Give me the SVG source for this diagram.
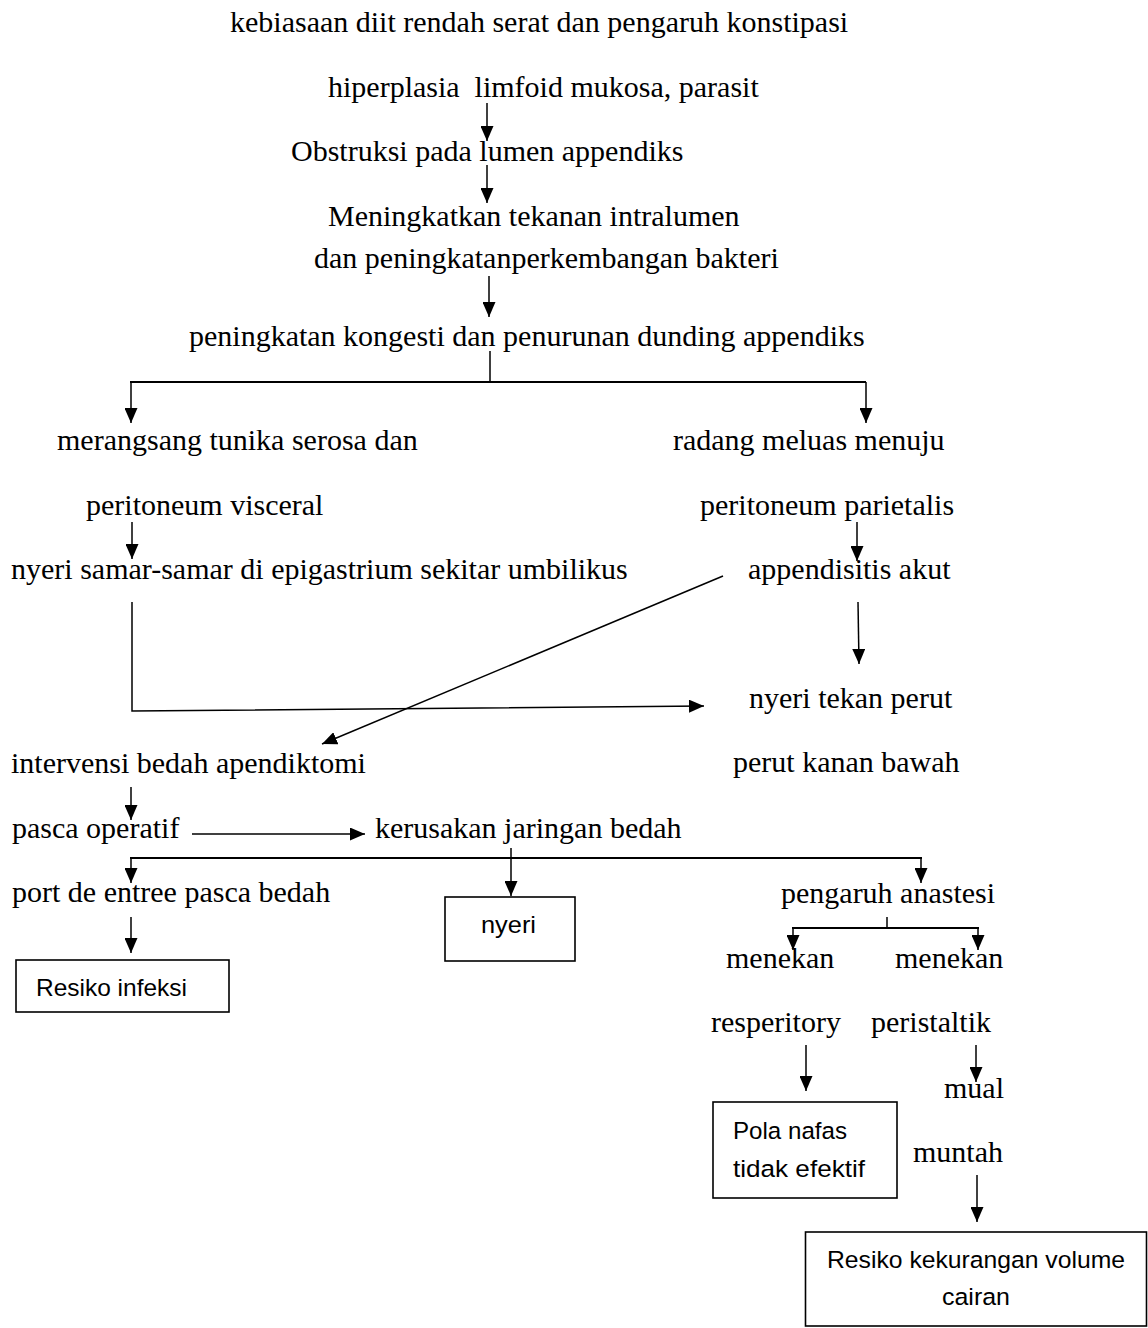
<svg xmlns="http://www.w3.org/2000/svg" width="1148" height="1328" viewBox="0 0 1148 1328">
<defs>
<style>
.t{font-family:"Liberation Serif","Times New Roman",serif;font-size:30px;fill:#000;white-space:pre}
.s{font-family:"Liberation Sans",Arial,sans-serif;font-size:24.5px;fill:#000}
.box{fill:#fff;stroke:#000;stroke-width:1.6}
.ln{fill:none;stroke:#000;stroke-width:1.5}
.br{fill:none;stroke:#000;stroke-width:2}
</style>
<marker id="ah" markerUnits="userSpaceOnUse" markerWidth="15" markerHeight="13" refX="15" refY="6.5" orient="auto" viewBox="0 0 15 13">
<path d="M0,0 L15,6.5 L0,13 z" fill="#000"/>
</marker>
</defs>
<rect width="1148" height="1328" fill="#fff"/>
<g id="connectors">
<path class="ln" d="M487,103 L487,141" marker-end="url(#ah)"/>
<path class="ln" d="M487,165 L487,203" marker-end="url(#ah)"/>
<path class="ln" d="M489,276 L489,317" marker-end="url(#ah)"/>
<path class="ln" d="M490,351 L490,382"/>
<path class="br" d="M130,382 L866,382"/>
<path class="ln" d="M131,382 L131,423" marker-end="url(#ah)"/>
<path class="ln" d="M866,382 L866,423" marker-end="url(#ah)"/>
<path class="ln" d="M132,522 L132,559" marker-end="url(#ah)"/>
<path class="ln" d="M857,522 L857,561" marker-end="url(#ah)"/>
<path class="ln" d="M132,602 L132,711 L704,706" marker-end="url(#ah)"/>
<path class="ln" d="M723,576 L322,744" marker-end="url(#ah)"/>
<path class="ln" d="M858,602 L859,664" marker-end="url(#ah)"/>
<path class="ln" d="M131,787 L131,820" marker-end="url(#ah)"/>
<path class="ln" d="M192,834 L365,834" marker-end="url(#ah)"/>
<path class="br" d="M130,858 L922,858"/>
<path class="ln" d="M131,858 L131,883" marker-end="url(#ah)"/>
<path class="ln" d="M921,858 L921,883" marker-end="url(#ah)"/>
<path class="ln" d="M511,848 L511,896" marker-end="url(#ah)"/>
<path class="ln" d="M131,917 L131,953" marker-end="url(#ah)"/>
<path class="ln" d="M887,917 L887,928"/>
<path class="br" d="M792,928 L979,928"/>
<path class="ln" d="M793,928 L793,950" marker-end="url(#ah)"/>
<path class="ln" d="M978,928 L978,950" marker-end="url(#ah)"/>
<path class="ln" d="M806,1045 L806,1091" marker-end="url(#ah)"/>
<path class="ln" d="M976,1045 L976,1082" marker-end="url(#ah)"/>
<path class="ln" d="M977,1175 L977,1222" marker-end="url(#ah)"/>
</g>
<g id="n1"><text class="t" x="230" y="32">kebiasaan diit rendah serat dan pengaruh konstipasi</text></g>
<g id="n2"><text class="t" x="328" y="97">hiperplasia  limfoid mukosa, parasit</text></g>
<g id="n3"><text class="t" x="291" y="161">Obstruksi pada lumen appendiks</text></g>
<g id="n4"><text class="t" x="328" y="226">Meningkatkan tekanan intralumen</text>
<text class="t" x="314" y="268">dan peningkatanperkembangan bakteri</text></g>
<g id="n5"><text class="t" x="189" y="346">peningkatan kongesti dan penurunan dunding appendiks</text></g>
<g id="n6"><text class="t" x="57" y="450">merangsang tunika serosa dan</text>
<text class="t" x="86" y="515">peritoneum visceral</text></g>
<g id="n7"><text class="t" x="673" y="450">radang meluas menuju</text>
<text class="t" x="700" y="515">peritoneum parietalis</text></g>
<g id="n8"><text class="t" x="11" y="579">nyeri samar-samar di epigastrium sekitar umbilikus</text></g>
<g id="n9"><text class="t" x="748" y="579">appendisitis akut</text></g>
<g id="n10"><text class="t" x="749" y="708">nyeri tekan perut</text>
<text class="t" x="733" y="772">perut kanan bawah</text></g>
<g id="n11"><text class="t" x="11" y="773">intervensi bedah apendiktomi</text></g>
<g id="n12"><text class="t" x="12" y="838">pasca operatif</text></g>
<g id="n13"><text class="t" x="375" y="838">kerusakan jaringan bedah</text></g>
<g id="n14"><text class="t" x="12" y="902">port de entree pasca bedah</text></g>
<g id="n15"><rect class="box" x="445" y="897" width="130" height="64"/>
<text class="s" x="481" y="933" textLength="55" lengthAdjust="spacingAndGlyphs">nyeri</text></g>
<g id="n16"><text class="t" x="781" y="903">pengaruh anastesi</text></g>
<g id="n17"><rect class="box" x="16" y="960" width="213" height="52"/>
<text class="s" x="36" y="996" textLength="151" lengthAdjust="spacingAndGlyphs">Resiko infeksi</text></g>
<g id="n18"><text class="t" x="726" y="968">menekan</text>
<text class="t" x="711" y="1032">resperitory</text></g>
<g id="n19"><text class="t" x="895" y="968">menekan</text>
<text class="t" x="871" y="1032">peristaltik</text></g>
<g id="n20"><text class="t" x="944" y="1098">mual</text>
<text class="t" x="913" y="1162">muntah</text></g>
<g id="n21"><rect class="box" x="713" y="1102" width="184" height="96"/>
<text class="s" x="733" y="1139" textLength="114" lengthAdjust="spacingAndGlyphs">Pola nafas</text>
<text class="s" x="733" y="1177" textLength="132" lengthAdjust="spacingAndGlyphs">tidak efektif</text></g>
<g id="n22"><rect class="box" x="805.5" y="1232" width="341" height="94"/>
<text class="s" x="827" y="1268" textLength="298" lengthAdjust="spacingAndGlyphs">Resiko kekurangan volume</text>
<text class="s" x="942" y="1305" textLength="68" lengthAdjust="spacingAndGlyphs">cairan</text></g>
</svg>
